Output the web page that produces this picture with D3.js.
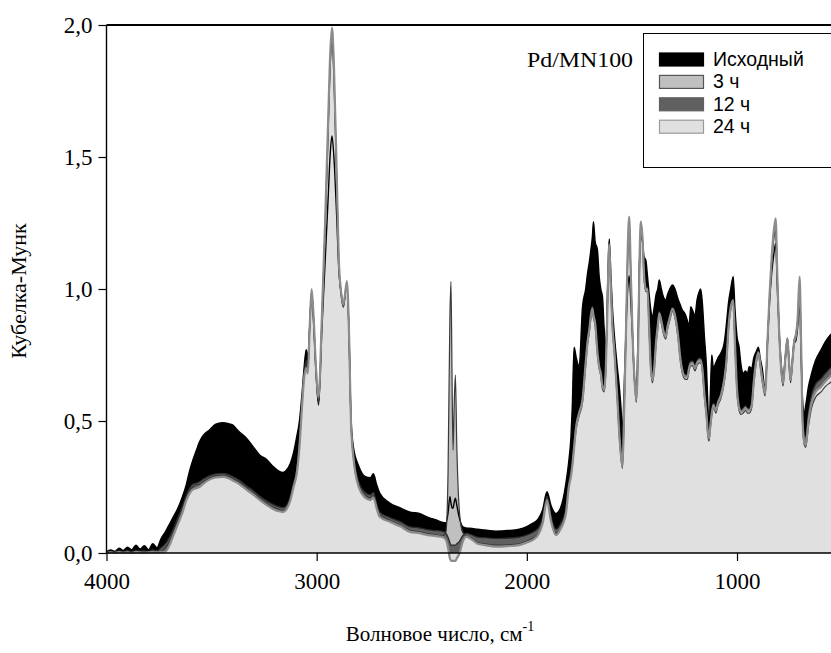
<!DOCTYPE html>
<html><head><meta charset="utf-8">
<script src="https://cdn.jsdelivr.net/npm/d3@7/dist/d3.min.js"></script>
<style>
html,body{margin:0;padding:0;background:#fff;}
svg{display:block;}
</style></head>
<body>
<svg id="chart" width="831" height="653"></svg>
<script>
// Wavenumbers, cm-1
const wavenumbers = [
 4000,3980,3960,3940,3920,3900,3880,3860,3840,3820,
 3800,3780,3760,3740,3720,3700,3680,3660,3640,3620,
 3605,3590,3572,3558,3540,3510,3480,3448,3420,3400,
 3370,3334,3300,3270,3239,3210,3180,3160,3144,3125,
 3110,3095,3082,3070,3060,3050,3042,3033,3024,3015,
 3003,2991,2975,2960,2945,2935,2927,2918,2905,2895,
 2884,2873,2856,2845,2837,2825,2800,2770,2745,2730,
 2715,2700,2654,2600,2559,2512,2470,2432,2400,2385,
 2375,2366,2361,2355,2351,2346,2340,2333,2320,2306,
 2290,2260,2235,2200,2147,2090,2036,2000,1973,1945,
 1925,1904,1885,1862,1840,1814,1800,1790,1784,1775,
 1765,1751,1735,1720,1711,1703,1695,1688,1683,1675,
 1664,1656,1648,1640,1632,1624,1616,1608,1600,1592,
 1584,1569,1560,1552,1545,1538,1528,1520,1513,1505,
 1495,1487,1479,1470,1464,1458,1450,1442,1434,1426,
 1418,1410,1402,1394,1385,1377,1370,1360,1350,1339,
 1330,1320,1307,1295,1280,1270,1260,1250,1244,1236,
 1228,1220,1212,1200,1190,1180,1173,1165,1155,1145,
 1138,1133,1127,1120,1112,1101,1090,1075,1060,1050,
 1040,1030,1018,1010,1000,990,982,970,960,950,
 942,930,920,910,898,890,880,866,855,845,
 835,825,816,808,800,790,781,770,760,752,
 745,735,728,721,712,702,695,688,680,673,
 660,645,626,600,580,557,540,520,500,480
];

// Исходный
const kmInitial = [
 0.005,0.012,0.006,0.018,0.01,0.022,0.012,0.03,0.015,0.028,
 0.012,0.035,0.02,0.055,0.08,0.11,0.14,0.17,0.21,0.26,
 0.31,0.35,0.39,0.42,0.445,0.466,0.488,0.494,0.49,0.485,
 0.46,0.435,0.40,0.37,0.355,0.33,0.31,0.305,0.314,0.34,
 0.38,0.44,0.50,0.60,0.70,0.77,0.74,0.86,0.98,0.88,
 0.68,0.56,0.85,1.10,1.35,1.52,1.58,1.50,1.28,1.08,
 0.99,0.94,1.02,0.80,0.52,0.40,0.33,0.29,0.285,0.30,
 0.26,0.227,0.19,0.17,0.156,0.15,0.135,0.125,0.116,0.115,
 0.15,0.213,0.19,0.17,0.17,0.19,0.208,0.18,0.13,0.10,
 0.095,0.093,0.09,0.087,0.083,0.085,0.09,0.10,0.112,0.13,
 0.163,0.232,0.18,0.15,0.17,0.265,0.35,0.44,0.55,0.78,
 0.74,0.706,0.933,1.0,1.06,1.10,1.15,1.20,1.255,1.18,
 1.148,1.05,1.0,0.97,0.85,0.77,1.0,1.19,1.05,0.92,
 0.83,0.70,0.63,0.55,0.453,0.60,0.85,1.0,1.05,0.95,
 0.78,0.65,0.62,0.85,1.10,1.20,1.18,1.12,1.11,1.05,
 0.98,0.92,0.895,0.93,0.98,1.0,1.034,1.0,0.97,0.958,
 0.98,1.0,1.015,1.0,0.96,0.94,0.92,0.91,0.90,0.88,
 0.86,0.933,0.92,0.90,0.96,0.99,1.0,0.95,0.82,0.70,
 0.55,0.453,0.60,0.75,0.70,0.72,0.74,0.76,0.80,0.87,
 0.95,1.0,1.047,0.93,0.82,0.78,0.72,0.68,0.69,0.68,
 0.706,0.70,0.74,0.76,0.78,0.74,0.70,0.62,0.80,0.95,
 1.06,1.13,1.173,1.0,0.85,0.72,0.66,0.74,0.81,0.72,
 0.66,0.74,0.80,0.80,0.85,0.95,0.75,0.58,0.53,0.56,
 0.63,0.68,0.73,0.77,0.80,0.825,0.84,0.86,0.87,0.88
];

// 3 ч
const km3h = [
 0.0,0.002,0.001,0.002,0.001,0.003,0.001,0.002,0.001,0.002,
 0.003,0.004,0.003,0.006,0.02,0.045,0.085,0.125,0.165,0.21,
 0.235,0.25,0.26,0.26,0.27,0.285,0.293,0.295,0.29,0.282,
 0.27,0.248,0.227,0.207,0.19,0.175,0.165,0.162,0.172,0.21,
 0.26,0.31,0.41,0.56,0.67,0.72,0.69,0.86,0.99,0.89,
 0.69,0.57,0.88,1.22,1.6,1.85,1.94,1.8,1.42,1.1,
 0.98,0.93,1.02,0.79,0.50,0.36,0.26,0.22,0.21,0.22,
 0.18,0.145,0.125,0.105,0.087,0.08,0.073,0.069,0.065,0.08,
 0.3,0.9,1.028,0.6,0.39,0.55,0.674,0.4,0.15,0.08,
 0.066,0.055,0.04,0.035,0.03,0.031,0.035,0.045,0.055,0.075,
 0.118,0.205,0.125,0.075,0.095,0.155,0.255,0.295,0.33,0.40,
 0.47,0.52,0.57,0.71,0.79,0.835,0.89,0.915,0.89,0.86,
 0.75,0.70,0.67,0.62,0.61,0.69,0.94,1.16,0.99,0.84,
 0.76,0.57,0.44,0.36,0.32,0.49,0.84,1.13,1.25,1.04,
 0.77,0.64,0.57,0.79,1.09,1.24,1.19,1.04,0.99,0.99,
 0.84,0.69,0.645,0.69,0.79,0.85,0.90,0.87,0.83,0.81,
 0.85,0.88,0.915,0.89,0.81,0.73,0.68,0.66,0.658,0.658,
 0.69,0.708,0.71,0.69,0.71,0.72,0.72,0.69,0.59,0.51,
 0.44,0.424,0.47,0.52,0.55,0.53,0.56,0.59,0.65,0.72,
 0.85,0.92,0.95,0.79,0.61,0.54,0.525,0.53,0.54,0.53,
 0.53,0.55,0.64,0.71,0.75,0.71,0.65,0.595,0.79,0.97,
 1.11,1.21,1.25,1.04,0.84,0.69,0.633,0.73,0.80,0.71,
 0.645,0.73,0.79,0.81,0.87,1.03,0.79,0.49,0.41,0.40,
 0.48,0.55,0.59,0.61,0.63,0.645,0.655,0.665,0.675,0.68
];

// 12 ч
const km12h = [
 0.003,0.006,0.004,0.008,0.005,0.009,0.004,0.01,0.006,0.008,
 0.005,0.012,0.008,0.02,0.035,0.06,0.095,0.135,0.175,0.22,
 0.245,0.26,0.265,0.27,0.28,0.293,0.3,0.302,0.297,0.29,
 0.277,0.255,0.235,0.215,0.198,0.185,0.175,0.172,0.18,0.215,
 0.265,0.315,0.42,0.57,0.68,0.73,0.70,0.865,0.99,0.89,
 0.69,0.57,0.89,1.23,1.62,1.87,1.96,1.82,1.43,1.11,
 0.985,0.935,1.02,0.795,0.505,0.37,0.27,0.23,0.22,0.23,
 0.19,0.155,0.135,0.118,0.10,0.095,0.088,0.085,0.082,0.075,
 0.06,0.04,0.03,0.03,0.03,0.03,0.03,0.035,0.045,0.065,
 0.075,0.068,0.06,0.058,0.055,0.056,0.06,0.068,0.078,0.095,
 0.135,0.215,0.14,0.09,0.11,0.17,0.27,0.31,0.345,0.42,
 0.49,0.54,0.59,0.73,0.81,0.853,0.908,0.935,0.908,0.878,
 0.768,0.714,0.688,0.638,0.628,0.708,0.958,1.16,1.008,0.858,
 0.778,0.588,0.458,0.378,0.335,0.508,0.855,1.14,1.24,1.05,
 0.788,0.658,0.588,0.808,1.1,1.23,1.19,1.058,1.008,1.006,
 0.858,0.708,0.663,0.708,0.808,0.868,0.915,0.888,0.848,0.828,
 0.868,0.898,0.93,0.908,0.828,0.748,0.698,0.678,0.676,0.676,
 0.708,0.726,0.728,0.708,0.728,0.738,0.738,0.708,0.608,0.528,
 0.458,0.44,0.488,0.538,0.568,0.548,0.578,0.608,0.668,0.738,
 0.868,0.935,0.955,0.808,0.628,0.558,0.543,0.548,0.558,0.548,
 0.548,0.568,0.658,0.728,0.765,0.728,0.668,0.61,0.8,0.97,
 1.1,1.19,1.22,1.04,0.855,0.708,0.65,0.748,0.815,0.728,
 0.663,0.748,0.808,0.825,0.88,1.0,0.8,0.52,0.45,0.44,
 0.53,0.6,0.64,0.66,0.68,0.70,0.71,0.72,0.73,0.73
];

// 24 ч
const km24h = [
 0.0,0.002,0.0,0.003,0.001,0.002,0.0,0.003,0.002,0.001,
 0.002,0.003,0.002,0.003,0.005,0.03,0.07,0.11,0.15,0.20,
 0.225,0.24,0.245,0.25,0.262,0.278,0.286,0.288,0.283,0.275,
 0.262,0.24,0.22,0.20,0.182,0.168,0.158,0.155,0.165,0.20,
 0.25,0.30,0.40,0.55,0.66,0.70,0.68,0.86,1.0,0.90,
 0.70,0.59,0.90,1.25,1.65,1.90,1.99,1.85,1.45,1.12,
 0.99,0.94,1.03,0.80,0.50,0.36,0.25,0.21,0.20,0.21,
 0.17,0.137,0.119,0.10,0.081,0.075,0.068,0.064,0.06,0.05,
 0.02,-0.02,-0.03,-0.03,-0.03,-0.03,-0.03,-0.02,0.0,0.04,
 0.062,0.05,0.035,0.03,0.024,0.026,0.03,0.04,0.049,0.07,
 0.112,0.20,0.12,0.068,0.09,0.15,0.25,0.29,0.327,0.40,
 0.48,0.53,0.58,0.72,0.80,0.845,0.90,0.927,0.90,0.87,
 0.76,0.706,0.68,0.63,0.62,0.70,0.95,1.17,1.0,0.85,
 0.77,0.58,0.45,0.37,0.327,0.50,0.85,1.15,1.274,1.05,
 0.78,0.65,0.58,0.80,1.10,1.255,1.20,1.05,1.0,1.0,
 0.85,0.70,0.655,0.70,0.80,0.86,0.908,0.88,0.84,0.82,
 0.86,0.89,0.925,0.90,0.82,0.74,0.69,0.67,0.668,0.668,
 0.70,0.718,0.72,0.70,0.72,0.73,0.73,0.70,0.60,0.52,
 0.45,0.434,0.48,0.53,0.56,0.54,0.57,0.60,0.66,0.73,
 0.86,0.93,0.958,0.80,0.62,0.55,0.535,0.54,0.55,0.54,
 0.54,0.56,0.65,0.72,0.76,0.72,0.66,0.605,0.80,0.98,
 1.12,1.22,1.268,1.05,0.85,0.70,0.643,0.74,0.813,0.72,
 0.655,0.74,0.80,0.82,0.88,1.047,0.80,0.50,0.42,0.409,
 0.50,0.57,0.61,0.63,0.65,0.668,0.68,0.69,0.70,0.70
];

const seriesNames = ["Исходный", "3 ч", "12 ч", "24 ч"];
const seriesValues = [kmInitial, km3h, km12h, km24h];
const fillColors = ["#000000", "#c0c0c0", "#606060", "#e0e0e0"];
const lineColors = ["#000000", "#3a3a3a", "#2a2a2a", "#8c8c8c"];
const lineWidths = [1.4, 1.2, 1.2, 2.2];
const legendStroke = ["#000000", "#555555", "#606060", "#9a9a9a"];
const xTicks = [4000, 3000, 2000, 1000];
const yTicks = [0, 0.5, 1.0, 1.5, 2.0];
const sampleLabel = "Pd/MN100";
const xTitle = "Волновое число, см";
const yTitle = "Кубелка-Мунк";

const svg = d3.select("#chart");
const W = 831, H = 653;
const x = d3.scaleLinear().domain([4000, 1000]).range([106.5, 737]);
const y = d3.scaleLinear().domain([0, 2]).range([553, 25]);
const serif = "'Liberation Serif','Times New Roman',serif";
const sans = "'Liberation Sans',Arial,sans-serif";

svg.append("defs").append("clipPath").attr("id", "plotclip")
  .append("rect").attr("x", 106.5).attr("y", 20).attr("width", W - 106.5).attr("height", 545);

const series = seriesValues.map(vals => wavenumbers.map((w, i) => ({w, v: vals[i]})));

const area = d3.area().x(d => x(d.w)).y0(y(0)).y1(d => y(d.v)).curve(d3.curveMonotoneX);
const line = d3.line().x(d => x(d.w)).y(d => y(d.v)).curve(d3.curveMonotoneX);

const g = svg.append("g").attr("clip-path", "url(#plotclip)");
series.forEach((s, i) => {
  g.append("path").datum(s).attr("d", area).attr("fill", fillColors[i]).attr("stroke", "none");
});
series.forEach((s, i) => {
  g.append("path").datum(s).attr("d", line).attr("fill", "none")
    .attr("stroke", lineColors[i]).attr("stroke-width", lineWidths[i]).attr("stroke-linejoin", "round");
});

// Frame top line
svg.append("line").attr("x1", 106.5).attr("x2", W).attr("y1", 25).attr("y2", 25)
  .attr("stroke", "#000").attr("stroke-width", 1.8);

// Axes
const xAxis = d3.axisBottom(x).tickValues(xTicks).tickSize(8).tickPadding(12).tickFormat(d3.format("d"));
const xg = svg.append("g").attr("transform", `translate(0,${y(0)})`).call(xAxis);
xg.select(".domain").remove();
xg.append("line").attr("x1", 106.5).attr("x2", W).attr("y1", 0).attr("y2", 0).attr("stroke", "#000").attr("stroke-width", 1.4);
xg.selectAll(".tick line").attr("stroke", "#000").attr("stroke-width", 1.2);
xg.selectAll(".tick text").attr("font-family", serif).attr("font-size", 23).attr("fill", "#000");

const yAxis = d3.axisLeft(y).tickValues(yTicks).tickSize(8).tickPadding(6)
  .tickFormat(d => d.toFixed(1).replace(".", ","));
const yg = svg.append("g").attr("transform", `translate(106.5,0)`).call(yAxis);
yg.select(".domain").remove();
yg.append("line").attr("x1", 0).attr("x2", 0).attr("y1", 25).attr("y2", y(0)).attr("stroke", "#000").attr("stroke-width", 1.4);
yg.selectAll(".tick line").attr("stroke", "#000").attr("stroke-width", 1.2);
yg.selectAll(".tick text").attr("font-family", serif).attr("font-size", 23).attr("fill", "#000");

// Axis titles
svg.append("text").attr("transform", "translate(26,291) rotate(-90)")
  .attr("text-anchor", "middle").attr("font-family", serif).attr("font-size", 22).text(yTitle);
const xt = svg.append("text").attr("x", 440).attr("y", 641).attr("text-anchor", "middle")
  .attr("font-family", serif).attr("font-size", 21);
xt.append("tspan").text(xTitle);
xt.append("tspan").attr("dy", -10).attr("font-size", 14).text("-1");

// Sample label
svg.append("text").attr("x", 527).attr("y", 67)
  .attr("font-family", serif).attr("font-size", 21).attr("textLength", 106).attr("lengthAdjust", "spacingAndGlyphs")
  .text(sampleLabel);

// Legend
const lg = svg.append("g");
lg.append("rect").attr("x", 643.5).attr("y", 33.5).attr("width", 200).attr("height", 134)
  .attr("fill", "#fff").attr("stroke", "#000").attr("stroke-width", 1);
seriesNames.forEach((name, i) => {
  const cy = 59.5 + i * 22.4;
  lg.append("rect").attr("x", 659.5).attr("y", cy - 6.5).attr("width", 44).attr("height", 13)
    .attr("fill", fillColors[i]).attr("stroke", legendStroke[i]).attr("stroke-width", 1.2);
  lg.append("text").attr("x", 713).attr("y", cy + 6.5).attr("font-family", sans)
    .attr("font-size", 19.5).attr("fill", "#000").text(name);
});
</script>
</body></html>
